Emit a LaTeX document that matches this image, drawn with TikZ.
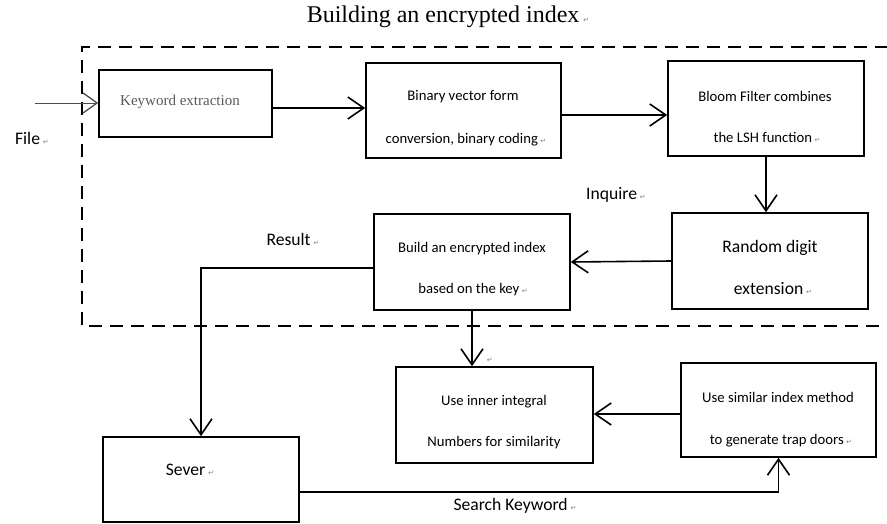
\documentclass[tikz,border=0pt]{standalone}
\usepackage{fontspec}
\setmainfont{Carlito}
\newfontfamily\serifface{Liberation Serif}
\newfontfamily\symface{DejaVu Sans}
\usetikzlibrary{arrows.meta}
\newcommand{\retmark}{\,{\symface\fontsize{7}{7}\selectfont\color{gray}↵}}
\tikzset{
  box/.style={draw, line width=1.6pt, rectangle, inner sep=0pt},
  arr/.style={line width=1.6pt, -{Straight Barb[length=16pt,width=22pt,line width=1.6pt]}},
  txt/.style={inner sep=0pt, font=\fontsize{14.7}{14.7}\selectfont},
  big/.style={inner sep=0pt, font=\fontsize{17.6}{17.6}\selectfont},
}
\begin{document}
\begin{tikzpicture}[x=1pt,y=-1pt]
\useasboundingbox (0,0) rectangle (887,524);
% title
\node[inner sep=0pt, font=\serifface\fontsize{24}{24}\selectfont] (title) at (448,17) {Building an encrypted index\retmark};
% dashed frame
\draw[line width=1.6pt, dash pattern=on 13pt off 8pt] (888,47) -- (82,47) -- (82,326) -- (888,326);
% boxes
\node[box, minimum width=173pt, minimum height=67pt] (kw) at (185.5,103.5) {};
\node[box, minimum width=195pt, minimum height=95pt] (bin) at (463.5,110.5) {};
\node[box, minimum width=196pt, minimum height=95pt] (bloom) at (766,108.5) {};
\node[box, minimum width=196pt, minimum height=96pt] (rand) at (770,261) {};
\node[box, minimum width=196pt, minimum height=96pt] (build) at (472,262) {};
\node[box, minimum width=197pt, minimum height=96pt] (inner) at (494.5,415) {};
\node[box, minimum width=195pt, minimum height=94pt] (sim) at (778.5,410) {};
\node[box, minimum width=196pt, minimum height=85pt] (sever) at (201,479.5) {};
% box texts
\node[inner sep=0pt, text=black!65, font=\serifface\fontsize{15}{15}\selectfont] (kwt) at (180,102) {Keyword extraction};
\node[txt] (bint1) at (463,97) {Binary vector form};
\node[txt] (bint2) at (466,140) {conversion, binary coding\retmark};
\node[txt] (bloomt1) at (765,96) {Bloom Filter combines};
\node[txt] (bloomt2) at (767,137) {the LSH function\retmark};
\node[big] (randt1) at (770,248) {Random digit};
\node[big] (randt2) at (773,289) {extension\retmark};
\node[txt] (buildt1) at (472,249) {Build an encrypted index};
\node[txt] (buildt2) at (473,290) {based on the key\retmark};
\node[txt] (innert1) at (494,402) {Use inner integral};
\node[txt] (innert2) at (494,443) {Numbers for similarity};
\node[txt] (simt1) at (778,397) {Use similar index method};
\node[txt] (simt2) at (781,441) {to generate trap doors\retmark};
\node[big] (severt) at (190,470) {Sever\retmark};
% labels
\node[big] (file) at (32,138) {File\retmark};
\node[big] (result) at (293,239) {Result\retmark};
\node[big] (inquire) at (616,195) {Inquire\retmark};
\node[big] (search) at (515,506) {Search Keyword\retmark};
\node[inner sep=0pt] (mark) at (489,360) {\retmark};
% connectors
\coordinate (filein) at (35,103);
\draw[line width=0.6pt, draw=black!70, -{Straight Barb[length=14pt,width=20pt,line width=1.3pt]}] (filein) -- (kw.west |- filein);
\draw[arr] (kw.east |- 0,108) -- (bin.west |- 0,108);
\draw[arr] (bin.east |- 0,115) -- (bloom.west |- 0,115);
\draw[arr] (bloom.south) -- (bloom.south |- rand.north);
\draw[arr] (rand.west) -- (build.east);
\draw[arr] (build.west |- 0,268) -| (sever.north);
\draw[arr] (build.south) -- (build.south |- inner.north);
\draw[arr] (sim.west |- 0,414) -- (inner.east |- 0,414);
\draw[arr] (sever.east |- 0,492) -| (sim.south);
\end{tikzpicture}
\end{document}
